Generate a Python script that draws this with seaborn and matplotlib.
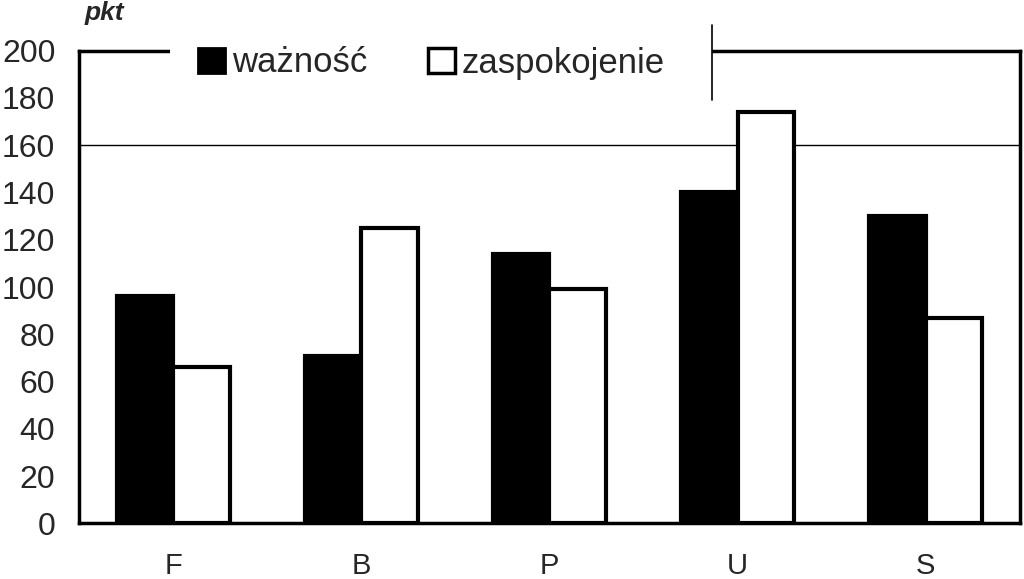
import pandas as pd
import numpy as np
import matplotlib.pyplot as plt
import matplotlib.patches as mpatches
import seaborn as sns

# values (pkt)
categories = ["F", "B", "P", "U", "S"]
waznosc = [96, 71, 114, 140, 130]
zaspokojenie = [66, 125, 99, 174, 87]
series_names = ["ważność", "zaspokojenie"]
y_ticks = [0, 20, 40, 60, 80, 100, 120, 140, 160, 180, 200]

df = pd.DataFrame({
    "kat": categories * 2,
    "seria": [series_names[0]] * len(categories) + [series_names[1]] * len(categories),
    "pkt": waznosc + zaspokojenie,
})

sns.set_style("white")
plt.rcParams["font.family"] = ["Liberation Sans", "DejaVu Sans"]

fig = plt.figure(figsize=(10.24, 5.79), dpi=100)
ax = fig.add_axes([0.0771, 0.0962, 0.9189, 0.8162])

ax.axhline(160, color="black", lw=1.0, zorder=0)

sns.barplot(data=df, x="kat", y="pkt", hue="seria", order=categories,
            hue_order=series_names, palette={"ważność": "black", "zaspokojenie": "white"},
            width=0.6, gap=0, edgecolor="black", linewidth=3.0, ax=ax, legend=False,
            zorder=2)

ax.set_xlim(-0.5, len(categories) - 0.5)
ax.set_ylim(0, 200)
ax.set_yticks(y_ticks)
ax.set_xlabel("")
ax.set_ylabel("")
ax.tick_params(axis="y", length=0, pad=17, labelsize=23)
ax.tick_params(axis="x", length=0, pad=21, labelsize=21)

for s in ["left", "bottom", "right", "top"]:
    ax.spines[s].set_visible(True)
    ax.spines[s].set_color("black")
    ax.spines[s].set_linewidth(2.5)

# white box behind the legend hides part of the top border
cover = mpatches.Rectangle((170 / 1024, 1 - 62 / 579), (712 - 170) / 1024, 26 / 579,
                           transform=fig.transFigure, facecolor="white", edgecolor="none",
                           clip_on=False, zorder=10)
ax.add_patch(cover)
ax.plot([712 / 1024, 712 / 1024], [1 - 25 / 579, 1 - 100 / 579], color="black", lw=1.2,
        transform=fig.transFigure, clip_on=False, zorder=11)

handles = [mpatches.Patch(facecolor="black", edgecolor="black", lw=2, label=series_names[0]),
           mpatches.Patch(facecolor="white", edgecolor="black", lw=2.5, label=series_names[1])]
leg = ax.legend(handles=handles, ncol=2, loc="center left",
                bbox_to_anchor=(198 / 1024, 1 - 63 / 579), bbox_transform=fig.transFigure,
                frameon=False, fontsize=25, handlelength=0.78, handleheight=0.75,
                handletextpad=0.2, columnspacing=1.75, borderpad=0, borderaxespad=0)
leg.set_zorder(12)

fig.text(104 / 1024, 1 - 13 / 579, "pkt", ha="center", va="center",
         fontsize=19, fontweight="bold", fontstyle="italic")

fig.savefig("out.png", dpi=100)
